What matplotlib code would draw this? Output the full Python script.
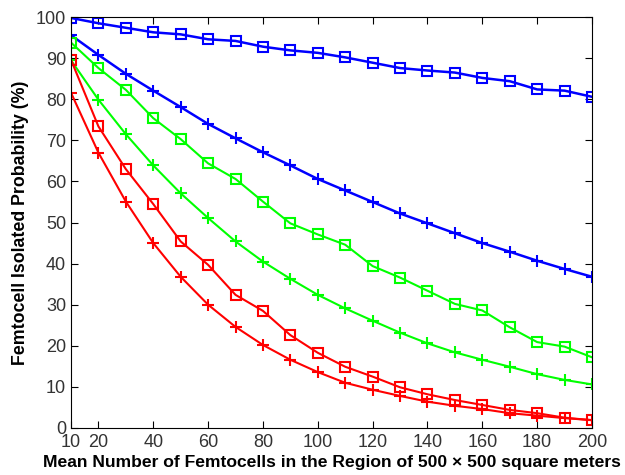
import numpy as np
import matplotlib
matplotlib.use("Agg")
import matplotlib.pyplot as plt

# %% Data

n_femto = np.arange(10, 201, 10)

blue_sq = [99.8, 98.5, 97.4, 96.3, 95.8, 94.6, 94.2, 92.8, 91.9, 91.3,
           90.2, 88.9, 87.6, 87.0, 86.5, 85.2, 84.4, 82.4, 82.1, 80.6]
blue_plus = [95.6, 90.8, 86.2, 82.1, 78.1, 74.0, 70.5, 67.1, 63.9, 60.6,
             57.8, 55.0, 52.2, 49.8, 47.4, 45.0, 42.9, 40.7, 38.7, 36.8]
green_sq = [93.8, 87.6, 82.3, 75.4, 70.3, 64.4, 60.6, 55.1, 49.8, 47.1,
            44.6, 39.4, 36.6, 33.4, 30.2, 28.6, 24.5, 20.9, 19.8, 17.2]
green_plus = [89.5, 79.9, 71.5, 63.9, 57.1, 51.1, 45.4, 40.5, 36.3, 32.4,
              29.1, 26.1, 23.2, 20.6, 18.4, 16.6, 14.9, 13.1, 11.7, 10.6]
red_sq = [89.6, 73.4, 63.0, 54.5, 45.4, 39.7, 32.4, 28.5, 22.6, 18.3,
          14.9, 12.5, 9.9, 8.2, 6.8, 5.6, 4.4, 3.6, 2.5, 1.9]
red_plus = [81.6, 67.0, 55.1, 45.0, 36.8, 30.0, 24.6, 20.2, 16.6, 13.6,
            11.0, 9.3, 7.8, 6.4, 5.4, 4.6, 3.6, 3.0, 2.4, 1.9]

xticks = [10, 20, 40, 60, 80, 100, 120, 140, 160, 180, 200]
yticks = np.arange(0, 101, 10)

# %% Plot

plt.rcParams["font.family"] = ["Liberation Sans", "DejaVu Sans"]

fig = plt.figure(figsize=(6.25, 4.75), dpi=100)
ax = fig.add_axes([0.1136, 0.099, 0.8336, 0.865])

series = [
    (blue_sq, "#0000ff", "s", 1.8),
    (blue_plus, "#0000ff", "+", 1.8),
    (green_sq, "#00ff00", "s", 1.5),
    (green_plus, "#00ff00", "+", 1.5),
    (red_sq, "#ff0000", "s", 1.5),
    (red_plus, "#ff0000", "+", 1.5),
]

for vals, col, mk, lw in series:
    ms = 7 if mk == "s" else 9
    ax.plot(n_femto, vals, color=col, marker=mk, markersize=ms,
            markerfacecolor="none", markeredgewidth=1.5, linewidth=lw)

ax.set_xlim(10, 200)
ax.set_ylim(0, 100)
ax.set_xticks(xticks)
ax.set_yticks(yticks)
ax.tick_params(direction="in", top=True, right=True, length=5,
               labelsize=13, labelcolor="#333333", width=0.8)
ax.tick_params(axis="x", pad=4)
for s in ax.spines.values():
    s.set_linewidth(0.8)

ax.set_xlabel("Mean Number of Femtocells in the Region of 500 \u00d7 500 square meters",
              fontsize=12.6, fontweight="bold", labelpad=3)
ax.set_ylabel("Femtocell Isolated Probability (%)", fontsize=12.8,
              fontweight="bold", labelpad=5)

fig.savefig("out.png", dpi=100)
